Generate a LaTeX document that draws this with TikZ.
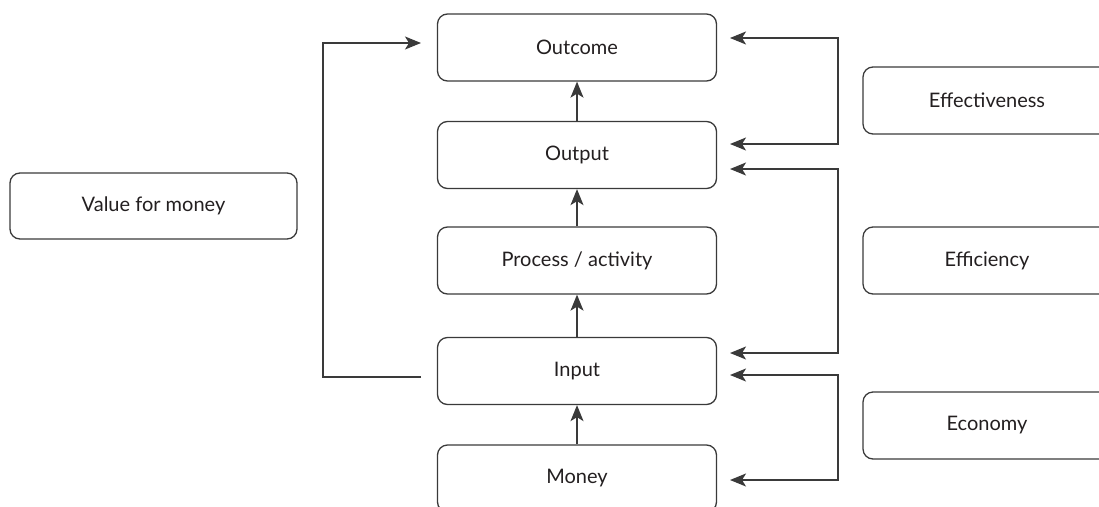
\documentclass[tikz,border=0pt]{standalone}
\usepackage{fontspec}
\setmainfont{Lato}
\usetikzlibrary{arrows.meta}
\definecolor{linegray}{HTML}{3A3A3A}
\definecolor{textgray}{HTML}{231F20}
\begin{document}
\begin{tikzpicture}[x=1pt, y=-1pt,
    box/.style={draw=linegray, line width=1.3pt, rounded corners=10pt,
      minimum height=67pt, inner sep=0pt, text=textgray,
      font=\fontsize{20}{24}\selectfont},
    mid/.style={box, minimum width=279pt},
    side/.style={box, minimum width=248pt},
    conn/.style={draw=linegray, line width=1.3pt,
      -{Stealth[length=16pt, width=13pt, inset=4pt]}},
    bconn/.style={conn, {Stealth[length=16pt, width=13pt, inset=4pt]}-{Stealth[length=16pt, width=13pt, inset=4pt]}}]
    \useasboundingbox (0,0) rectangle (1099,506);
    \clip (0,0) rectangle (1099,506);
    % chain
    \node[mid] (outcome) at (577, 47.5) {Outcome};
    \node[mid] (output) at (577, 155) {Output};
    \node[mid] (process) at (577, 260.5) {Process / activity};
    \node[mid] (input) at (577, 371) {Input};
    \node[mid] (money) at (577, 478.5) {Money};
    \draw[conn] (money) -- (input);
    \draw[conn] (input) -- (process);
    \draw[conn] (process) -- (output);
    \draw[conn] (output) -- (outcome);
    % measures
    \node[box, minimum width=287pt, minimum height=66pt] (vfm) at (153.5, 206) {Value for money};
    \node[side] (effect) at (987, 100.5) {Effectiveness};
    \node[side] (effic) at (987, 260.5) {Efficiency};
    \node[side] (econ) at (987, 425.5) {Economy};
    % brackets
    \coordinate (vfm-a) at (421, 377);
    \coordinate (vfm-b) at (421, 43);
    \coordinate (effect-a) at (730, 38);
    \coordinate (effect-b) at (730, 144);
    \coordinate (effic-a) at (730, 169);
    \coordinate (effic-b) at (730, 353);
    \coordinate (econ-a) at (730, 375);
    \coordinate (econ-b) at (730, 480);
    \draw[conn] (vfm-a) -- ++(-98,0) |- (vfm-b);
    \draw[bconn] (effect-a) -- ++(108,0) |- (effect-b);
    \draw[bconn] (effic-a) -- ++(108,0) |- (effic-b);
    \draw[bconn] (econ-a) -- ++(108,0) |- (econ-b);
\end{tikzpicture}
\end{document}
